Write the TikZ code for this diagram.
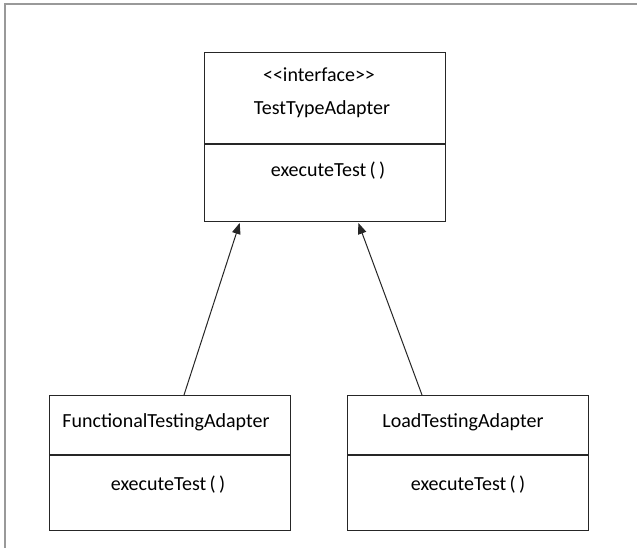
\documentclass[tikz,border=0pt]{standalone}
\usepackage{fontspec}
\setmainfont{Carlito}
\usetikzlibrary{arrows.meta}
\begin{document}
\begin{tikzpicture}[x=1pt,y=-1pt,
  cls/.style={draw=black!85, line width=1.3pt},
  lbl/.style={font=\fontsize{20}{22}\selectfont, inner sep=0pt, anchor=base},
  inh/.style={-{Triangle[length=11pt,width=8.5pt]}, line width=1pt, draw=black!85, shorten >=1pt}]
\useasboundingbox (0,0) rectangle (637,548);
\fill[white] (0,0) rectangle (637,548);
% outer frame (top and left only)
\coordinate (fTL) at (5,4);
\coordinate (fTR) at (637,4);
\coordinate (fBL) at (5,548);
\draw[black!40, line width=2pt] (fBL) -- (fTL) -- (fTR);
% top class
\node[cls, minimum width=241, minimum height=169, anchor=north west] (iface) at (204,52) {};
\coordinate (ifDivL) at (204,144); \coordinate (ifDivR) at (445,144);
\draw[cls] (ifDivL) -- (ifDivR);
\node[lbl] (ifStereo) at (319,82) {{<}{<}interface{>}{>}};
\node[lbl] (ifName) at (322,115) {TestTypeAdapter};
\node[lbl] (ifOp) at (328,177) {executeTest\,(\,)};
% left class
\node[cls, minimum width=241, minimum height=135, anchor=north west] (func) at (49,395) {};
\coordinate (fnDivL) at (49,455); \coordinate (fnDivR) at (290,455);
\draw[cls] (fnDivL) -- (fnDivR);
\node[lbl] (fnName) at (166,427) {FunctionalTestingAdapter};
\node[lbl] (fnOp) at (168,490) {executeTest\,(\,)};
% right class
\node[cls, minimum width=241, minimum height=135, anchor=north west] (load) at (347,395) {};
\coordinate (ldDivL) at (347,455); \coordinate (ldDivR) at (588,455);
\draw[cls] (ldDivL) -- (ldDivR);
\node[lbl] (ldName) at (463,427) {LoadTestingAdapter};
\node[lbl] (ldOp) at (468,490) {executeTest\,(\,)};
% arrows
\coordinate (a1s) at (184,395); \coordinate (a1e) at (240,222);
\coordinate (a2s) at (422,395); \coordinate (a2e) at (358,222);
\draw[inh] (a1s) -- (a1e);
\draw[inh] (a2s) -- (a2e);
\end{tikzpicture}
\end{document}
